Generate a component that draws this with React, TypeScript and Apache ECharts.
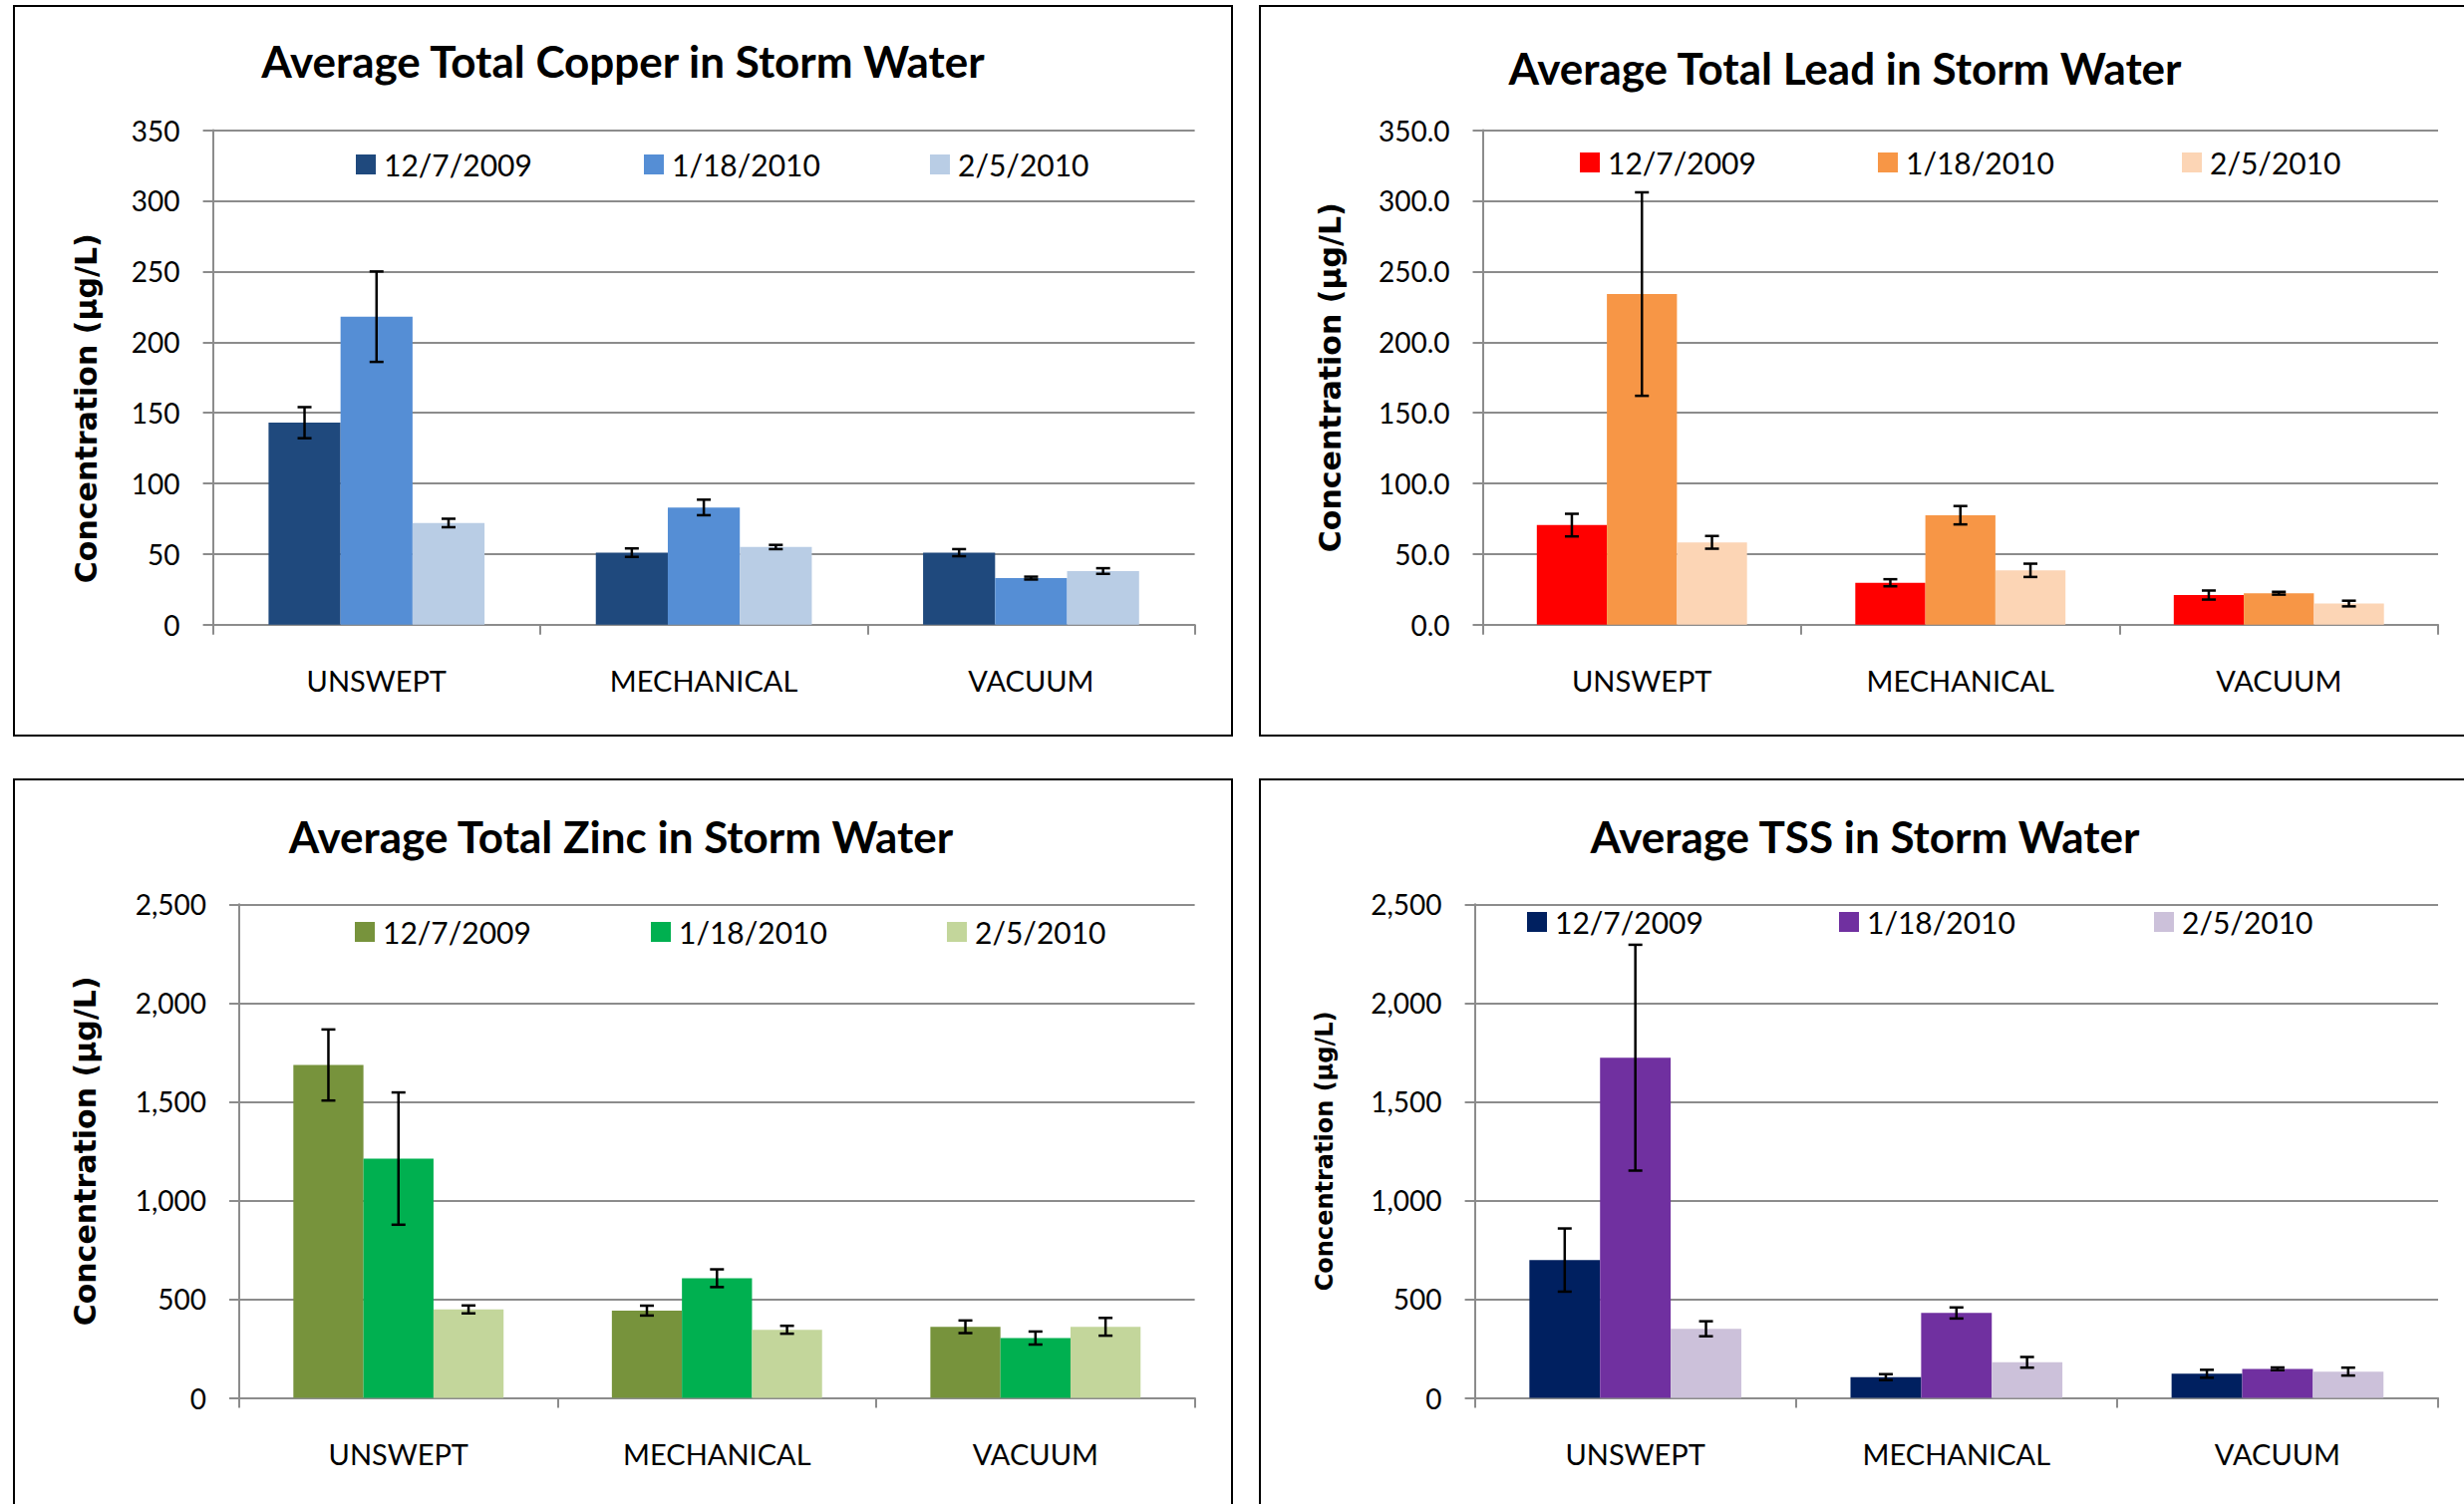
import React, { useEffect, useRef } from 'react';
import * as echarts from 'echarts';

const categories = ['UNSWEPT', 'MECHANICAL', 'VACUUM'];
const dates = ['12/7/2009', '1/18/2010', '2/5/2010'];

// Copper (µg/L)
const copper1207 = [143, 51, 51];
const copper0118 = [218, 83, 33];
const copper0205 = [72, 55, 38];
const copperErr1207 = [11, 3, 2.5];
const copperErr0118 = [32, 5.5, 1];
const copperErr0205 = [3, 1.5, 2];

// Lead (µg/L)
const lead1207 = [70.5, 29.7, 21];
const lead0118 = [234, 77.5, 22.3];
const lead0205 = [58.3, 38.5, 15];
const leadErr1207 = [8, 2.5, 3.2];
const leadErr0118 = [72, 6.5, 1];
const leadErr0205 = [4.5, 4.7, 2];

// Zinc (µg/L)
const zinc1207 = [1686, 442, 360];
const zinc0118 = [1212, 606, 303];
const zinc0205 = [448, 345, 360];
const zincErr1207 = [180, 25, 32];
const zincErr0118 = [335, 45, 33];
const zincErr0205 = [20, 20, 45];

// TSS
const tss1207 = [698, 105, 122];
const tss0118 = [1723, 430, 147];
const tss0205 = [350, 180, 133];
const tssErr1207 = [160, 15, 20];
const tssErr0118 = [572, 28, 7];
const tssErr0205 = [38, 27, 20];

const copperTicksMax = 350;
const leadTicksMax = 350;
const zincTicksMax = 2500;
const tssTicksMax = 2500;

const GAP = 0.34;
const FONT = 'Lato, "Open Sans", sans-serif';
const NAME_FONT = '"DejaVu Sans", Verdana, sans-serif';

type Panel = {
  key: string;
  title: string;
  values: number[][];
  errors: number[][];
  colors: string[];
  max: number;
  interval: number;
  fmt: (v: number) => string;
  box: [number, number, number, number];
  grid: { left: number; top: number; width: number; height: number };
  titleX: number;
  titleY: number;
  legendXs: number[];
  legendY: number;
  nameGap: number;
  nameSize: number;
  namePad: number;
};

const thousands = (v: number) => v.toLocaleString('en-US');

const panels: Panel[] = [
  {
    key: 'cu',
    title: 'Average Total Copper in Storm Water',
    values: [copper1207, copper0118, copper0205],
    errors: [copperErr1207, copperErr0118, copperErr0205],
    colors: ['#1F497D', '#558ED5', '#B9CDE5'],
    max: copperTicksMax,
    interval: 50,
    fmt: (v) => String(v),
    box: [14, 6, 1222, 732],
    grid: { left: 213.6, top: 130.6, width: 985, height: 496.2 },
    titleX: 625,
    titleY: 39,
    legendXs: [357, 646, 933],
    legendY: 160,
    nameGap: 112,
    nameSize: 30,
    namePad: 62,
  },
  {
    key: 'pb',
    title: 'Average Total Lead in Storm Water',
    values: [lead1207, lead0118, lead0205],
    errors: [leadErr1207, leadErr0118, leadErr0205],
    colors: ['#FF0000', '#F79646', '#FCD5B5'],
    max: leadTicksMax,
    interval: 50,
    fmt: (v) => v.toFixed(1),
    box: [1264, 6, 1216, 732],
    grid: { left: 1487.5, top: 130.6, width: 958.5, height: 496.2 },
    titleX: 1851,
    titleY: 46,
    legendXs: [1585, 1884, 2189],
    legendY: 158,
    nameGap: 138,
    nameSize: 30,
    namePad: 0,
  },
  {
    key: 'zn',
    title: 'Average Total Zinc in Storm Water',
    values: [zinc1207, zinc0118, zinc0205],
    errors: [zincErr1207, zincErr0118, zincErr0205],
    colors: ['#77933C', '#00B050', '#C3D69B'],
    max: zincTicksMax,
    interval: 500,
    fmt: thousands,
    box: [14, 782, 1222, 740],
    grid: { left: 240, top: 907.3, width: 958.6, height: 495.2 },
    titleX: 623,
    titleY: 817,
    legendXs: [356, 653, 950],
    legendY: 930,
    nameGap: 140,
    nameSize: 30,
    namePad: 0,
  },
  {
    key: 'tss',
    title: 'Average TSS in Storm Water',
    values: [tss1207, tss0118, tss0205],
    errors: [tssErr1207, tssErr0118, tssErr0205],
    colors: ['#002060', '#7030A0', '#CCC1DA'],
    max: tssTicksMax,
    interval: 500,
    fmt: thousands,
    box: [1264, 782, 1216, 740],
    grid: { left: 1479.6, top: 907.3, width: 966.4, height: 495.2 },
    titleX: 1871,
    titleY: 817,
    legendXs: [1532, 1845, 2161],
    legendY: 920,
    nameGap: 139,
    nameSize: 24,
    namePad: 0,
  },
];

function buildOption() {
  const grid: any[] = [];
  const xAxis: any[] = [];
  const yAxis: any[] = [];
  const series: any[] = [];
  const legend: any[] = [];
  const title: any[] = [];
  const graphic: any[] = [];

  panels.forEach((p, pi) => {
    graphic.push({
      type: 'rect',
      shape: { x: p.box[0], y: p.box[1], width: p.box[2], height: p.box[3] },
      style: { fill: 'none', stroke: '#000', lineWidth: 2 },
      silent: true,
      z: 0,
    });
    title.push({
      text: p.title,
      left: p.titleX,
      top: p.titleY,
      textAlign: 'center',
      padding: 0,
      textStyle: { fontFamily: FONT, fontWeight: 'bold', fontSize: 44, color: '#000' },
    });
    grid.push({ ...p.grid, containLabel: false });
    xAxis.push({
      type: 'category',
      gridIndex: pi,
      data: categories,
      axisLine: { show: true, lineStyle: { color: '#8C8C8C', width: 2 } },
      axisTick: { show: true, length: 10, lineStyle: { color: '#8C8C8C', width: 2 } },
      axisLabel: { margin: 41, color: '#000', fontFamily: FONT, fontSize: 29 },
      splitLine: { show: false },
    });
    yAxis.push({
      type: 'value',
      gridIndex: pi,
      min: 0,
      max: p.max,
      interval: p.interval,
      name: 'Concentration (µg/L)',
      nameLocation: 'middle',
      nameGap: p.nameGap,
      nameRotate: 90,
      nameTextStyle: {
        fontFamily: NAME_FONT,
        fontWeight: 'bold',
        fontSize: p.nameSize,
        color: '#000',
        padding: [0, p.namePad, 0, 0],
      },
      axisLine: { show: true, lineStyle: { color: '#8C8C8C', width: 2 } },
      axisTick: { show: true, length: 10, lineStyle: { color: '#8C8C8C', width: 2 } },
      axisLabel: {
        margin: 33,
        color: '#000',
        fontFamily: FONT,
        fontSize: 28,
        formatter: (v: number) => p.fmt(v),
      },
      splitLine: { show: true, lineStyle: { color: '#8C8C8C', width: 2.2 } },
    });
    dates.forEach((d, si) => {
      const name = p.key + '|' + d;
      series.push({
        type: 'bar',
        name,
        xAxisIndex: pi,
        yAxisIndex: pi,
        data: p.values[si],
        barGap: '0%',
        barCategoryGap: GAP * 100 + '%',
        itemStyle: { color: p.colors[si] },
        z: 2,
      });
      legend.push({
        data: [{ name, icon: 'rect' }],
        left: p.legendXs[si],
        top: p.legendY - 10,
        padding: 0,
        itemWidth: 20,
        itemHeight: 20,
        itemGap: 0,
        selectedMode: false,
        formatter: (n: string) => n.split('|')[1],
        textStyle: { fontFamily: FONT, fontSize: 30, color: '#000', padding: [0, 0, 0, 3] },
      });
    });
    const errData: number[][] = [];
    dates.forEach((_, si) => {
      categories.forEach((_c, ci) => {
        errData.push([ci, si, p.values[si][ci], p.errors[si][ci]]);
      });
    });
    series.push({
      type: 'custom',
      name: p.key + '-err',
      xAxisIndex: pi,
      yAxisIndex: pi,
      data: errData,
      z: 5,
      silent: true,
      encode: { x: 0, y: 2 },
      renderItem: (params: any, api: any) => {
        const ci = api.value(0);
        const si = api.value(1);
        const val = api.value(2);
        const err = api.value(3);
        const center = api.coord([ci, val]);
        const band = api.size([1, 0])[0];
        const barW = (band * (1 - GAP)) / 3;
        const x = center[0] + (si - 1) * barW;
        const yTop = api.coord([ci, val + err])[1];
        const yBot = api.coord([ci, val - err])[1];
        const cap = 7;
        const st = { stroke: '#000', lineWidth: 2.5 };
        return {
          type: 'group',
          children: [
            { type: 'line', shape: { x1: x, y1: yTop, x2: x, y2: yBot }, style: st },
            { type: 'line', shape: { x1: x - cap, y1: yTop, x2: x + cap, y2: yTop }, style: st },
            { type: 'line', shape: { x1: x - cap, y1: yBot, x2: x + cap, y2: yBot }, style: st },
          ],
        };
      },
    });
  });

  return {
    animation: false,
    backgroundColor: '#fff',
    title,
    grid,
    xAxis,
    yAxis,
    legend,
    series,
    graphic,
  };
}

export default function App() {
  const ref = useRef<HTMLDivElement>(null);
  useEffect(() => {
    if (!ref.current) return;
    const chart = echarts.init(ref.current, undefined, { renderer: 'svg' });
    chart.setOption(buildOption() as any);
    return () => chart.dispose();
  }, []);
  return (
    <div
      ref={ref}
      style={{ position: 'absolute', left: 0, top: 0, width: 2472, height: 1509, background: '#fff' }}
    />
  );
}
